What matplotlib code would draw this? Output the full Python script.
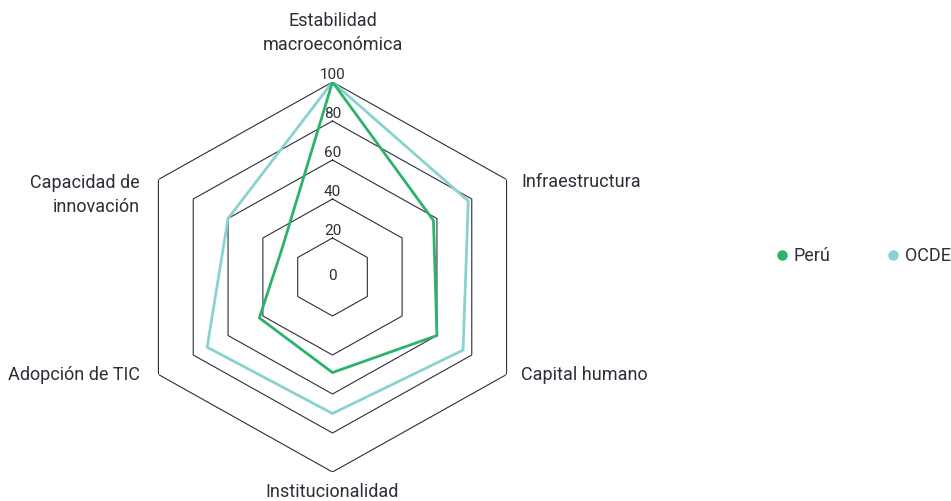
import numpy as np
import matplotlib.pyplot as plt
from matplotlib.lines import Line2D

plt.rcParams['font.family'] = ['Roboto', 'DejaVu Sans']

categories = ["Estabilidad\nmacroeconómica", "Infraestructura", "Capital humano",
              "Institucionalidad", "Adopción de TIC", "Capacidad de\ninnovación"]
peru = [100, 58, 60, 49, 42, 29]
ocde = [100, 78, 75, 70, 72, 60]
rings = [20, 40, 60, 80, 100]
tick_labels = ["0", "20", "40", "60", "80", "100"]

green = "#2bb36a"
teal = "#88d3cf"
grid_col = "#2e2e38"
text_col = "#2e2e38"

W, H = 951, 501
fig = plt.figure(figsize=(W / 100, H / 100), dpi=100)
# centre (332.5, 277) px, radius 201 px across, 195 px up/down
cx, cy, rx, ry = 332.5, 277, 201, 195
ax = fig.add_axes([(cx - rx) / W, (H - cy - ry) / H, 2 * rx / W, 2 * ry / H],
                  projection='polar')
ax.set_aspect('auto')
ax.set_theta_zero_location('N')
ax.set_theta_direction(-1)
ax.set_ylim(0, 100)
ax.grid(False)
ax.spines['polar'].set_visible(False)
ax.set_xticks([])
ax.set_yticks([])
ax.patch.set_alpha(0)

theta = np.deg2rad(np.arange(len(categories)) * 360 / len(categories))
theta_c = np.append(theta, theta[0])

for r in rings:
    ax.plot(theta_c, [r] * len(theta_c), color=grid_col, lw=0.8, zorder=1)

ax.plot(theta_c, ocde + ocde[:1], color=teal, lw=2.0, zorder=2, label="OCDE")
ax.plot(theta_c, peru + peru[:1], color=green, lw=2.0, zorder=3, label="Perú")

# radial tick labels along the top axis
for v, t in zip([0] + rings, tick_labels):
    ax.annotate(t, xy=(0, v), xytext=(0, 1 if v == 0 else 7), textcoords='offset pixels',
                ha='center', va='center', fontsize=11, color=text_col, zorder=4)

# category labels
offsets = [(0, 49, 'center'), (14.5, -2.5, 'left'), (14.5, -0.5, 'left'),
           (0, -20, 'center'), (-18.5, -0.5, 'right'), (-18.5, -15.5, 'right')]
for th, lab, (dx, dy, ha) in zip(theta, categories, offsets):
    ax.annotate(lab, xy=(th, 100), xytext=(dx, dy), textcoords='offset pixels',
                ha=ha, va='center', multialignment=ha, fontsize=13, color=text_col,
                linespacing=1.45, annotation_clip=False)

handles = [Line2D([], [], ls='', marker='o', ms=6.5, color=green),
           Line2D([], [], ls='', marker='o', ms=6.5, color=teal)]
fig.legend(handles, ["Perú", "OCDE"], loc='center left', bbox_to_anchor=(760 / W, 1 - 256 / H),
           ncol=2, frameon=False, handlelength=0.6, handletextpad=0.35, columnspacing=3.2,
           fontsize=13, labelcolor=text_col)

fig.savefig("out.png", dpi=100)
